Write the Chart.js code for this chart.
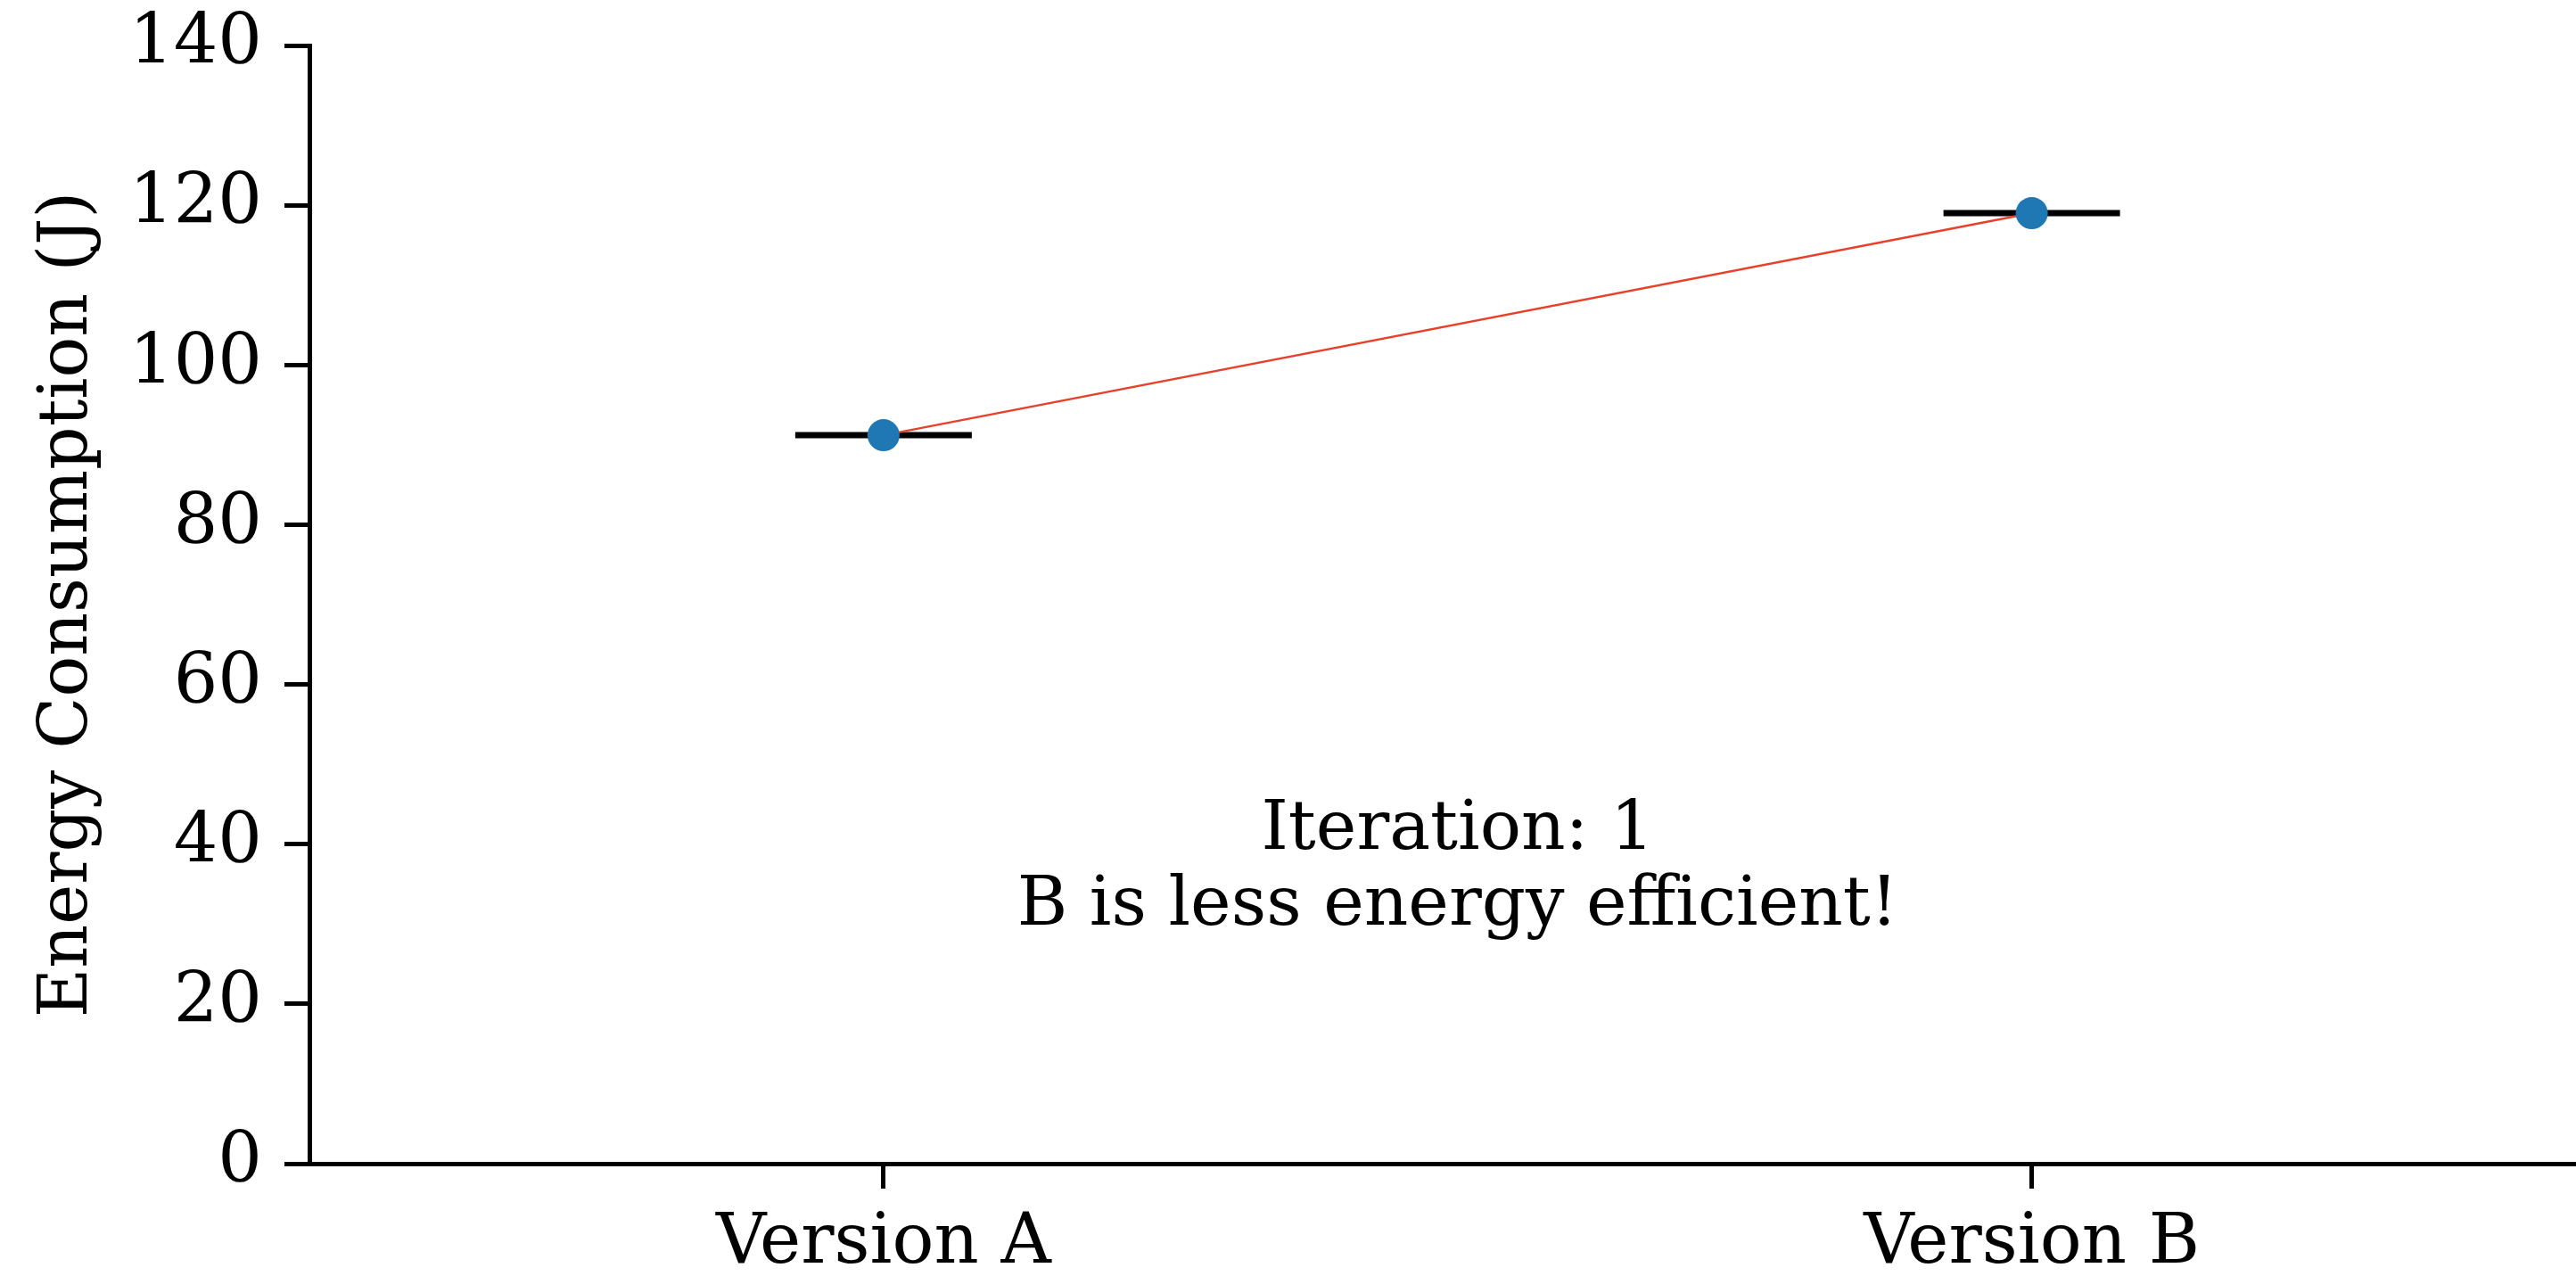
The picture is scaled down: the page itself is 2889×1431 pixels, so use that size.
<!DOCTYPE html>
<html>
<head>
<meta charset="utf-8">
<script src="https://cdn.jsdelivr.net/npm/chart.js@4"></script>
<style>
  html, body { margin: 0; padding: 0; background: #fff; overflow: hidden; }
  canvas { display: block; }
</style>
</head>
<body>
<canvas id="chart" width="2889" height="1431"></canvas>
<script>
// data
const versions = ['Version A', 'Version B'];
const energy = [91.2, 119.0];
const meanEnergy = [91.2, 119.0];
const yTicks = [0, 20, 40, 60, 80, 100, 120, 140];
const noteLines = ['Iteration: 1', 'B is less energy efficient!'];

const FONT = "'DejaVu Serif', 'Liberation Serif', serif";
const INK = '#000';

// draws the text note in the middle of the axes (axes fractions)
const notePlugin = {
  id: 'note',
  afterDatasetsDraw(chart) {
    const { ctx, chartArea, scales } = chart;
    const x = scales.x.getPixelForValue(0.5);
    const h = chartArea.bottom - chartArea.top;
    const fracs = [0.2815, 0.2137];
    ctx.save();
    ctx.font = '77px ' + FONT;
    ctx.fillStyle = INK;
    ctx.textAlign = 'center';
    ctx.textBaseline = 'alphabetic';
    noteLines.forEach((t, i) => {
      ctx.fillText(t, x, chartArea.bottom - fracs[i] * h);
    });
    ctx.restore();
  }
};

const ctx = document.getElementById('chart');
new Chart(ctx, {
  type: 'scatter',
  data: {
    datasets: [
      {
        label: 'mean',
        data: meanEnergy.map((v, i) => ({ x: i, y: v })),
        pointStyle: 'line',
        pointRadius: 99,
        pointHoverRadius: 99,
        pointBorderWidth: 7,
        borderColor: INK,
        showLine: false,
        order: 2
      },
      {
        label: 'energy',
        data: energy.map((v, i) => ({ x: i, y: v })),
        showLine: true,
        borderColor: '#e8412b',
        borderWidth: 2.5,
        pointRadius: 18,
        pointHoverRadius: 18,
        pointBackgroundColor: '#1f77b4',
        pointBorderColor: '#1f77b4',
        pointBorderWidth: 0,
        order: 1
      }
    ]
  },
  options: {
    responsive: false,
    devicePixelRatio: 1,
    animation: false,
    events: [],
    layout: { autoPadding: false, padding: { top: 51, right: 0, bottom: 0, left: 0 } },
    plugins: {
      legend: { display: false },
      tooltip: { enabled: false }
    },
    scales: {
      x: {
        type: 'linear',
        min: -0.5,
        max: 1.474,
        afterBuildTicks: (scale) => { scale.ticks = versions.map((_, i) => ({ value: i })); },
        afterFit: (scale) => {
          scale.height = 126;
          scale.paddingLeft = 0;
          scale.paddingRight = 0;
        },
        ticks: {
          callback: (v) => versions[v],
          font: { family: FONT, size: 78 },
          color: INK,
          padding: 16,
          maxRotation: 0,
          autoSkip: false
        },
        grid: { drawOnChartArea: false, drawTicks: true, tickLength: 28, color: INK, lineWidth: 5 },
        border: { display: true, color: INK, width: 5 }
      },
      y: {
        min: 0,
        max: 140,
        afterBuildTicks: (scale) => { scale.ticks = yTicks.map(v => ({ value: v })); },
        afterFit: (scale) => {
          scale.width = 347;
          scale.paddingTop = 0;
          scale.paddingBottom = 0;
        },
        ticks: {
          font: { family: FONT, size: 78 },
          color: INK,
          padding: 25
        },
        grid: { drawOnChartArea: false, drawTicks: true, tickLength: 28, color: INK, lineWidth: 5 },
        border: { display: true, color: INK, width: 5 },
        title: {
          display: true,
          text: 'Energy Consumption (J)',
          font: { family: FONT, size: 76 },
          color: INK,
          padding: { top: 32, bottom: 0 }
        }
      }
    }
  },
  plugins: [notePlugin]
});
</script>
</body>
</html>
